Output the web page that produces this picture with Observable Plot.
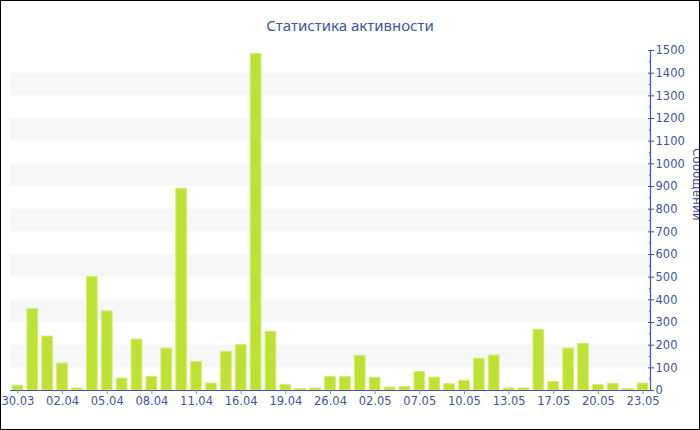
<!DOCTYPE html>
<html><head><meta charset="utf-8">
<script src="https://cdn.jsdelivr.net/npm/d3@7"></script>
<script src="https://cdn.jsdelivr.net/npm/@observablehq/plot@0.6"></script>
<style>
body{margin:0;background:#fff;}
#wrap{position:relative;width:700px;height:430px;box-sizing:border-box;border:1px solid #000;overflow:hidden;background:#fff;}
#title{position:absolute;left:0;top:14px;width:698px;text-align:center;font-family:"Noto Sans",sans-serif;font-size:15px;color:#3f55a0;z-index:2;}
#chart{position:absolute;left:0;top:0;}
</style></head>
<body>
<div id="wrap"><div id="title">Статистика активности</div><div id="chart"></div></div>
<script>
const dates = ["30.03","31.03","01.04","02.04","03.04","04.04","05.04","06.04","07.04","08.04","09.04","10.04","11.04","12.04","14.04","16.04","17.04","18.04","19.04","21.04","24.04","26.04","28.04","30.04","02.05","04.05","05.05","07.05","08.05","09.05","10.05","11.05","12.05","13.05","14.05","15.05","17.05","18.05","19.05","20.05","21.05","22.05","23.05"];
const messages = [21,359,238,119,9,501,349,53,225,60,185,890,126,31,171,200,1485,259,25,7,9,60,59,153,56,13,16,82,57,28,43,140,154,9,9,268,38,185,206,24,29,7,31];
const xTickLabels = ["30.03","02.04","05.04","08.04","11.04","16.04","19.04","26.04","02.05","07.05","10.05","13.05","17.05","20.05","23.05"];
const yTicks = [0,100,200,300,400,500,600,700,800,900,1000,1100,1200,1300,1400,1500];
const yMinorTicks = [50,150,250,350,450,550,650,750,850,950,1050,1150,1250,1350,1450];
const bandStarts = [100,300,500,700,900,1100,1300];
const bandEnds = [200,400,600,800,1000,1200,1400];
const yLabel = "Сообщений";

const data = dates.map((d, i) => ({date: d, value: messages[i]}));
const bands = bandStarts.map((s, i) => ({y1: s, y2: bandEnds[i]}));
const axisColor = "#3f55a0";

const chart = Plot.plot({
  width: 698, height: 428,
  marginLeft: 9, marginRight: 49, marginTop: 49, marginBottom: 39,
  style: {fontFamily: "DejaVu Sans, sans-serif", fontSize: "11.5px", color: axisColor, background: "transparent"},
  x: {type: "band", domain: dates, paddingInner: 0.28, paddingOuter: 0.14, label: null},
  y: {domain: [0, 1500], label: null},
  marks: [
    Plot.rectY(bands, {y1: "y1", y2: "y2", fill: "#f7f7f7"}),
    Plot.barY(data, {x: "date", y: "value", fill: "#bde232", stroke: "#d3ec7c", strokeWidth: 1}),
    Plot.ruleY([0], {stroke: axisColor, strokeWidth: 1.2}),
    Plot.frame({anchor: "right", stroke: axisColor, strokeWidth: 1.2}),
    Plot.axisX({ticks: xTickLabels, tickSize: 4, tickPadding: 2, stroke: "#8a8fa8", fill: axisColor, label: null}),
    Plot.axisY({anchor: "right", ticks: yTicks, tickFormat: d => String(d), tickSize: 3, tickPadding: 2, stroke: axisColor, fill: axisColor, label: null}),
    Plot.axisY({anchor: "right", ticks: yTicks, tickSize: -3, text: null, stroke: axisColor, label: null}),
    Plot.axisY({anchor: "right", ticks: yMinorTicks, tickSize: -2, text: null, stroke: axisColor, label: null}),
    Plot.text([yLabel], {frameAnchor: "right", dx: 46, rotate: 90, fill: axisColor, fontSize: 12, fontFamily: "DejaVu Sans, sans-serif"})
  ]
});
document.getElementById("chart").appendChild(chart);
</script>
</body></html>
